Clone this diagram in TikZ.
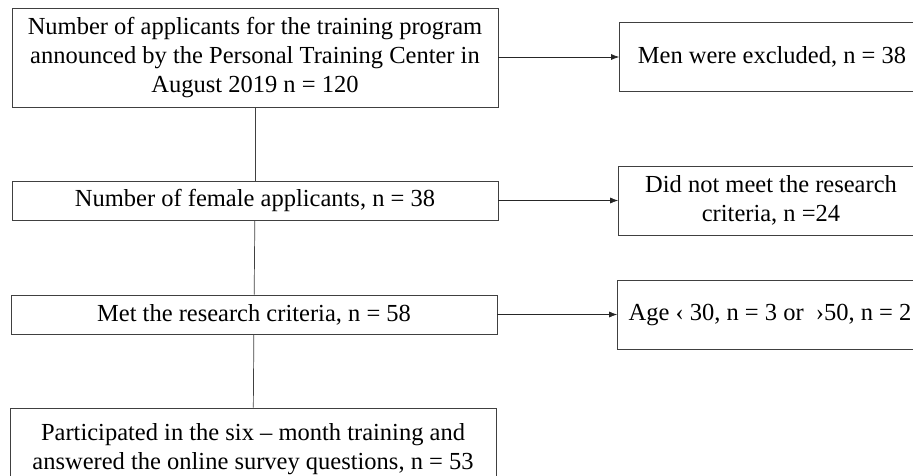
\documentclass[tikz,border=0pt]{standalone}
\usepackage{fontspec}
\setmainfont{Liberation Serif}
\usetikzlibrary{arrows.meta}
\begin{document}
\begin{tikzpicture}[x=1pt,y=-1pt,
  box/.style={draw=black!75,line width=0.7pt,minimum width=486pt,align=center,inner sep=0pt,font=\fontsize{24.5}{29}\selectfont},
  sidebox/.style={box,minimum width=305pt,minimum height=69pt},
  arr/.style={draw=black!85,line width=0.7pt,-{Latex[length=8pt,width=6pt]}}]
  \useasboundingbox (0,0) rectangle (913,475);
  \clip (0,0) rectangle (913,475);
  \node[box,minimum height=99pt] (applicants) at (255,57.5) {Number of applicants for the training program\\announced by the Personal Training Center in\\August 2019 n = 120};
  \node[box,minimum height=39pt] (female) at (255,200.5) {Number of female applicants, n = 38};
  \node[box,minimum height=39pt] (criteria) at (254,314.5) {Met the research criteria, n = 58};
  \node[box,minimum height=82pt] (participated) at (253,449) {Participated in the six -- month training and\\answered the online survey questions, n = 53};
  \node[sidebox] (men) at (772,57) {Men were excluded, n = 38};
  \node[sidebox] (notmet) at (771,200.5) {Did not meet the research\\criteria, n =24};
  \node[sidebox] (age) at (770,314.5) {Age ‹ 30, n = 3 or \ ›50, n = 2};
  \draw[draw=black!75,line width=0.7pt] (applicants) -- (female);
  \draw[draw=black!75,line width=0.7pt] (female) -- (criteria);
  \draw[draw=black!75,line width=0.7pt] (criteria) -- (participated);
  \draw[arr] (applicants.east |- men) -- (men);
  \draw[arr] (female) -- (notmet);
  \draw[arr] (criteria) -- (age);
\end{tikzpicture}
\end{document}
